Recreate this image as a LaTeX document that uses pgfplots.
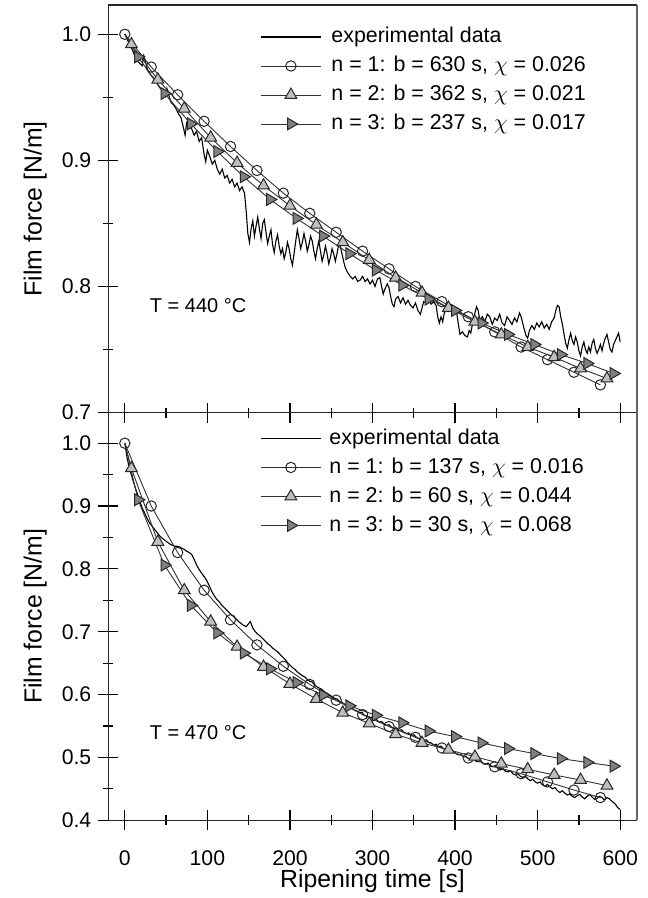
\documentclass[border=0pt]{standalone}
\usepackage{pgfplots}
\usepackage{pgfplotstable}
\pgfplotsset{compat=1.18}
\usepackage{fontspec}
\setmainfont{Liberation Sans}

% fitted curves, 440 C
\pgfplotstableread{
t F
0 1.000
32 0.974
64 0.952
96 0.931
128 0.911
160 0.892
192 0.874
224 0.858
256 0.843
288 0.828
320 0.814
352 0.800
384 0.788
416 0.776
448 0.764
480 0.752
512 0.742
544 0.732
576 0.722
}\nAtop
\pgfplotstableread{
t F
0 1.000
8 0.992
40 0.964
72 0.941
104 0.918
136 0.898
168 0.880
200 0.864
232 0.849
264 0.835
296 0.821
328 0.807
360 0.795
392 0.783
424 0.772
456 0.762
488 0.752
520 0.744
552 0.735
584 0.727
}\nBtop
\pgfplotstableread{
t F
0 1.000
16 0.982
48 0.953
80 0.929
112 0.907
144 0.887
176 0.869
208 0.854
240 0.840
272 0.826
304 0.813
336 0.801
368 0.790
400 0.781
432 0.771
464 0.762
496 0.754
528 0.746
560 0.739
592 0.731
}\nCtop
% fitted curves, 470 C
\pgfplotstableread{
t F
0 1.000
32 0.900
64 0.826
96 0.766
128 0.719
160 0.679
192 0.645
224 0.616
256 0.591
288 0.568
320 0.549
352 0.532
384 0.515
416 0.499
448 0.485
480 0.474
512 0.461
544 0.448
576 0.436
}\nAbot
\pgfplotstableread{
t F
0 1.000
8 0.960
40 0.843
72 0.766
104 0.716
136 0.676
168 0.644
200 0.617
232 0.593
264 0.571
296 0.554
328 0.537
360 0.523
392 0.512
424 0.501
456 0.490
488 0.481
520 0.472
552 0.464
584 0.455
}\nBbot
\pgfplotstableread{
t F
0 1.000
16 0.910
48 0.806
80 0.742
112 0.698
144 0.666
176 0.641
208 0.619
240 0.599
272 0.582
304 0.567
336 0.555
368 0.542
400 0.533
432 0.523
464 0.514
496 0.506
528 0.498
560 0.492
592 0.486
}\nCbot

% experimental data, 440 C
\pgfplotstableread{
t F
0 1.000
3 0.996
6 0.991
9 0.988
12 0.983
15 0.979
18 0.977
21 0.975
23 0.983
25 0.978
28 0.971
31 0.968
34 0.966
37 0.963
40 0.960
43 0.957
46 0.956
49 0.951
51 0.957
53 0.952
56 0.946
59 0.944
62 0.941
65 0.937
68 0.934
71 0.926
73 0.920
75 0.930
78 0.928
81 0.925
84 0.920
87 0.923
90 0.915
93 0.918
96 0.905
98 0.899
100 0.908
103 0.903
106 0.897
109 0.900
112 0.893
115 0.889
118 0.893
121 0.886
124 0.888
127 0.882
130 0.885
133 0.879
136 0.882
139 0.876
142 0.879
145 0.874
147 0.860
149 0.842
151 0.835
153 0.846
155 0.852
157 0.840
159 0.848
161 0.855
163 0.846
165 0.838
167 0.850
169 0.853
171 0.843
173 0.834
175 0.840
177 0.845
179 0.833
181 0.827
183 0.836
185 0.841
187 0.832
189 0.826
191 0.830
193 0.822
195 0.827
197 0.835
199 0.830
201 0.822
203 0.817
205 0.826
207 0.836
209 0.845
211 0.838
213 0.830
215 0.835
217 0.842
219 0.836
221 0.828
223 0.833
225 0.840
227 0.836
229 0.828
231 0.822
233 0.830
235 0.836
237 0.828
239 0.820
241 0.825
243 0.832
245 0.826
247 0.818
249 0.823
251 0.830
253 0.826
255 0.820
257 0.826
259 0.833
261 0.832
263 0.826
265 0.820
267 0.815
269 0.812
271 0.810
273 0.808
276 0.806
279 0.808
282 0.804
285 0.805
288 0.808
291 0.804
294 0.806
297 0.802
300 0.805
303 0.800
306 0.806
309 0.807
311 0.800
313 0.794
315 0.798
318 0.802
320 0.799
322 0.792
324 0.786
326 0.784
328 0.790
331 0.792
334 0.787
337 0.791
340 0.786
343 0.789
346 0.785
349 0.783
352 0.787
355 0.781
358 0.778
360 0.783
362 0.788
365 0.787
368 0.790
371 0.786
374 0.788
377 0.785
379 0.776
381 0.771
383 0.776
385 0.772
387 0.779
390 0.782
393 0.784
396 0.781
399 0.782
402 0.779
404 0.770
406 0.762
409 0.764
412 0.761
415 0.760
417 0.765
419 0.763
421 0.770
424 0.779
426 0.784
428 0.781
430 0.773
433 0.776
436 0.772
439 0.778
442 0.776
445 0.770
448 0.775
451 0.773
454 0.778
457 0.771
460 0.769
463 0.776
466 0.773
469 0.770
472 0.775
475 0.772
478 0.779
480 0.776
483 0.768
486 0.761
488 0.759
490 0.765
493 0.769
496 0.766
499 0.771
502 0.768
505 0.772
508 0.767
511 0.770
514 0.766
517 0.772
520 0.775
522 0.781
524 0.785
526 0.784
528 0.776
530 0.770
532 0.762
534 0.755
536 0.751
538 0.758
540 0.763
542 0.757
544 0.754
546 0.760
548 0.756
550 0.749
552 0.745
554 0.752
556 0.756
558 0.750
560 0.747
562 0.752
564 0.748
566 0.755
568 0.758
570 0.751
572 0.747
574 0.750
576 0.754
578 0.749
580 0.755
582 0.759
584 0.762
586 0.756
588 0.750
590 0.748
592 0.754
594 0.757
596 0.760
598 0.763
600 0.756
}\expTop

% experimental data, 470 C
\pgfplotstableread{
t F
0 1.000
3 0.975
6 0.958
9 0.945
12 0.932
15 0.920
18 0.908
21 0.897
24 0.889
27 0.880
30 0.873
33 0.868
36 0.863
39 0.858
42 0.853
45 0.849
48 0.846
51 0.843
54 0.840
57 0.838
60 0.836
63 0.836
66 0.835
69 0.833
72 0.831
75 0.828
78 0.826
81 0.823
84 0.815
87 0.806
90 0.799
93 0.793
96 0.788
99 0.782
102 0.774
105 0.765
108 0.758
111 0.752
114 0.748
117 0.743
120 0.739
123 0.735
126 0.731
129 0.727
132 0.724
135 0.720
138 0.716
141 0.713
144 0.710
147 0.708
150 0.713
152 0.716
155 0.706
158 0.700
161 0.696
164 0.693
167 0.689
170 0.685
173 0.681
176 0.678
179 0.674
182 0.671
185 0.668
188 0.664
191 0.660
194 0.656
197 0.651
200 0.647
203 0.643
206 0.640
209 0.636
212 0.633
215 0.630
218 0.628
221 0.624
224 0.621
227 0.620
230 0.615
233 0.612
236 0.610
239 0.608
242 0.604
245 0.602
248 0.599
251 0.597
254 0.594
257 0.593
260 0.589
263 0.588
266 0.584
269 0.582
272 0.580
275 0.579
278 0.575
281 0.574
284 0.571
287 0.572
290 0.567
293 0.566
296 0.563
299 0.564
302 0.559
305 0.560
308 0.556
311 0.557
314 0.553
317 0.551
320 0.552
323 0.548
326 0.546
329 0.547
332 0.543
335 0.544
338 0.540
341 0.538
344 0.539
347 0.535
350 0.536
353 0.532
356 0.530
359 0.531
362 0.527
365 0.528
368 0.524
371 0.523
374 0.520
377 0.521
380 0.517
383 0.518
386 0.514
389 0.512
392 0.513
395 0.509
398 0.510
401 0.506
404 0.504
407 0.505
410 0.501
413 0.502
416 0.498
419 0.497
422 0.499
425 0.494
428 0.493
431 0.495
434 0.490
437 0.489
440 0.491
443 0.486
446 0.485
449 0.487
452 0.482
455 0.480
458 0.482
461 0.478
464 0.477
467 0.479
470 0.474
473 0.472
476 0.474
479 0.470
482 0.468
485 0.470
488 0.466
491 0.463
494 0.465
497 0.461
500 0.459
503 0.461
506 0.456
509 0.454
512 0.457
515 0.453
518 0.450
521 0.452
524 0.447
527 0.444
530 0.447
533 0.443
536 0.440
539 0.442
542 0.438
545 0.436
548 0.439
551 0.441
554 0.437
557 0.434
560 0.438
563 0.441
566 0.437
569 0.433
572 0.435
575 0.438
578 0.436
581 0.432
584 0.436
587 0.434
590 0.430
593 0.427
595 0.424
597 0.420
600 0.417
}\expBot

\pgfplotsset{
  panel/.style={
    scale only axis, width=264.2pt, height=203.8pt,
    xmin=-20, xmax=620,
    xtick={0,100,...,600}, minor x tick num=1, minor y tick num=1,
    xtick pos=bottom, ytick pos=left,
    tick align=center, major tick length=10pt, minor tick length=5pt,
    axis line style={black!85, line width=0.6pt},
    every tick/.style={black, line width=0.6pt},
    ticklabel style={font=\fontsize{10.6}{12}\selectfont},
    /pgf/number format/assume math mode=true,
    yticklabel style={/pgf/number format/fixed, /pgf/number format/fixed zerofill,
      /pgf/number format/precision=1, anchor=east, xshift=0pt},
    every axis y label/.style={at={(rel axis cs:0,0.5)}, rotate=90, anchor=center,
      yshift=36.6pt, font=\fontsize{12.4}{14}\selectfont},
    legend cell align=left,
    legend style={draw=none, fill=none, inner sep=0pt, row sep=2.5pt,
      font=\fontsize{10.7}{12}\selectfont,
      nodes={inner sep=1pt, text height=7.8pt, text depth=2.2pt}},
    legend image code/.code={
      \draw[mark repeat=2, mark phase=2, #1] plot coordinates {(0pt,0pt) (15pt,0pt) (30pt,0pt)};},
    clip=false,
  },
  expline/.style={black, line width=0.55pt, mark=none},
  fitA/.style={black!80, line width=0.45pt, mark=o, mark size=2.6pt,
    mark options={fill=white, draw=black!85, line width=0.5pt}},
  fitB/.style={black!80, line width=0.45pt, mark=triangle*, mark size=3.4pt,
    mark options={fill=black!25, draw=black!85, line width=0.5pt}},
  fitC/.style={black!80, line width=0.45pt, mark=triangle*, mark size=3.4pt,
    mark options={fill=black!50, draw=black!85, line width=0.5pt, rotate=-90}},
}

\begin{document}
\begin{tikzpicture}
\path[use as bounding box] (-54.15pt,2.5pt) rectangle (269.35pt,-446.5pt);

\begin{axis}[panel, name=top, at={(0pt,0pt)}, anchor=north west,
  ymin=0.7, ymax=1.0232, ytick={0.7,0.8,0.9,1.0},
  xticklabels={},
  ylabel={Film force [N/m]},
  legend style={at={(rel axis cs:0.287,0.952)}, anchor=north west,
    /tikz/every odd column/.append style={column sep=4pt}}]
  \addplot[expline] table[x=t, y=F] {\expTop};
  \addlegendentry{experimental data}
  \addplot[fitA] table[x=t, y=F] {\nAtop};
  \addlegendentry{n = 1: b = 630 s, $\chi$ = 0.026}
  \addplot[fitB, mark repeat=1, mark phase=2] table[x=t, y=F] {\nBtop};
  \addlegendentry{n = 2: b = 362 s, $\chi$ = 0.021}
  \addplot[fitC, mark repeat=1, mark phase=2] table[x=t, y=F] {\nCtop};
  \addlegendentry{n = 3: b = 237 s, $\chi$ = 0.017}
  \node[anchor=west, inner sep=0pt, font=\fontsize{10}{12}\selectfont] at (axis cs:30,0.785) {T = 440 °C};
\end{axis}

\begin{axis}[panel, name=bot, at={(0pt,-203.8pt)}, anchor=north west,
  ymin=0.4, ymax=1.0487, ytick={0.4,0.5,...,1.0},
  ylabel={Film force [N/m]},
  xlabel={Ripening time [s]},
  xticklabel style={anchor=north, inner sep=1pt, yshift=-9pt},
  every axis x label/.style={at={(rel axis cs:0.5,0)}, anchor=center, inner sep=1pt,
    yshift=-30.5pt, font=\fontsize{12.4}{14}\selectfont},
  legend style={at={(rel axis cs:0.287,0.967)}, anchor=north west,
    /tikz/every odd column/.append style={column sep=3pt}}]
  \addplot[expline] table[x=t, y=F] {\expBot};
  \addlegendentry{experimental data}
  \addplot[fitA] table[x=t, y=F] {\nAbot};
  \addlegendentry{n = 1: b = 137 s, $\chi$ = 0.016}
  \addplot[fitB, mark repeat=1, mark phase=2] table[x=t, y=F] {\nBbot};
  \addlegendentry{n = 2: b = 60 s, $\chi$ = 0.044}
  \addplot[fitC, mark repeat=1, mark phase=2] table[x=t, y=F] {\nCbot};
  \addlegendentry{n = 3: b = 30 s, $\chi$ = 0.068}
  \node[anchor=west, inner sep=0pt, font=\fontsize{10}{12}\selectfont] at (axis cs:30,0.54) {T = 470 °C};
\end{axis}

\draw[black!60, line width=1pt] (top.north east) -- (bot.south east);
\end{tikzpicture}
\end{document}
